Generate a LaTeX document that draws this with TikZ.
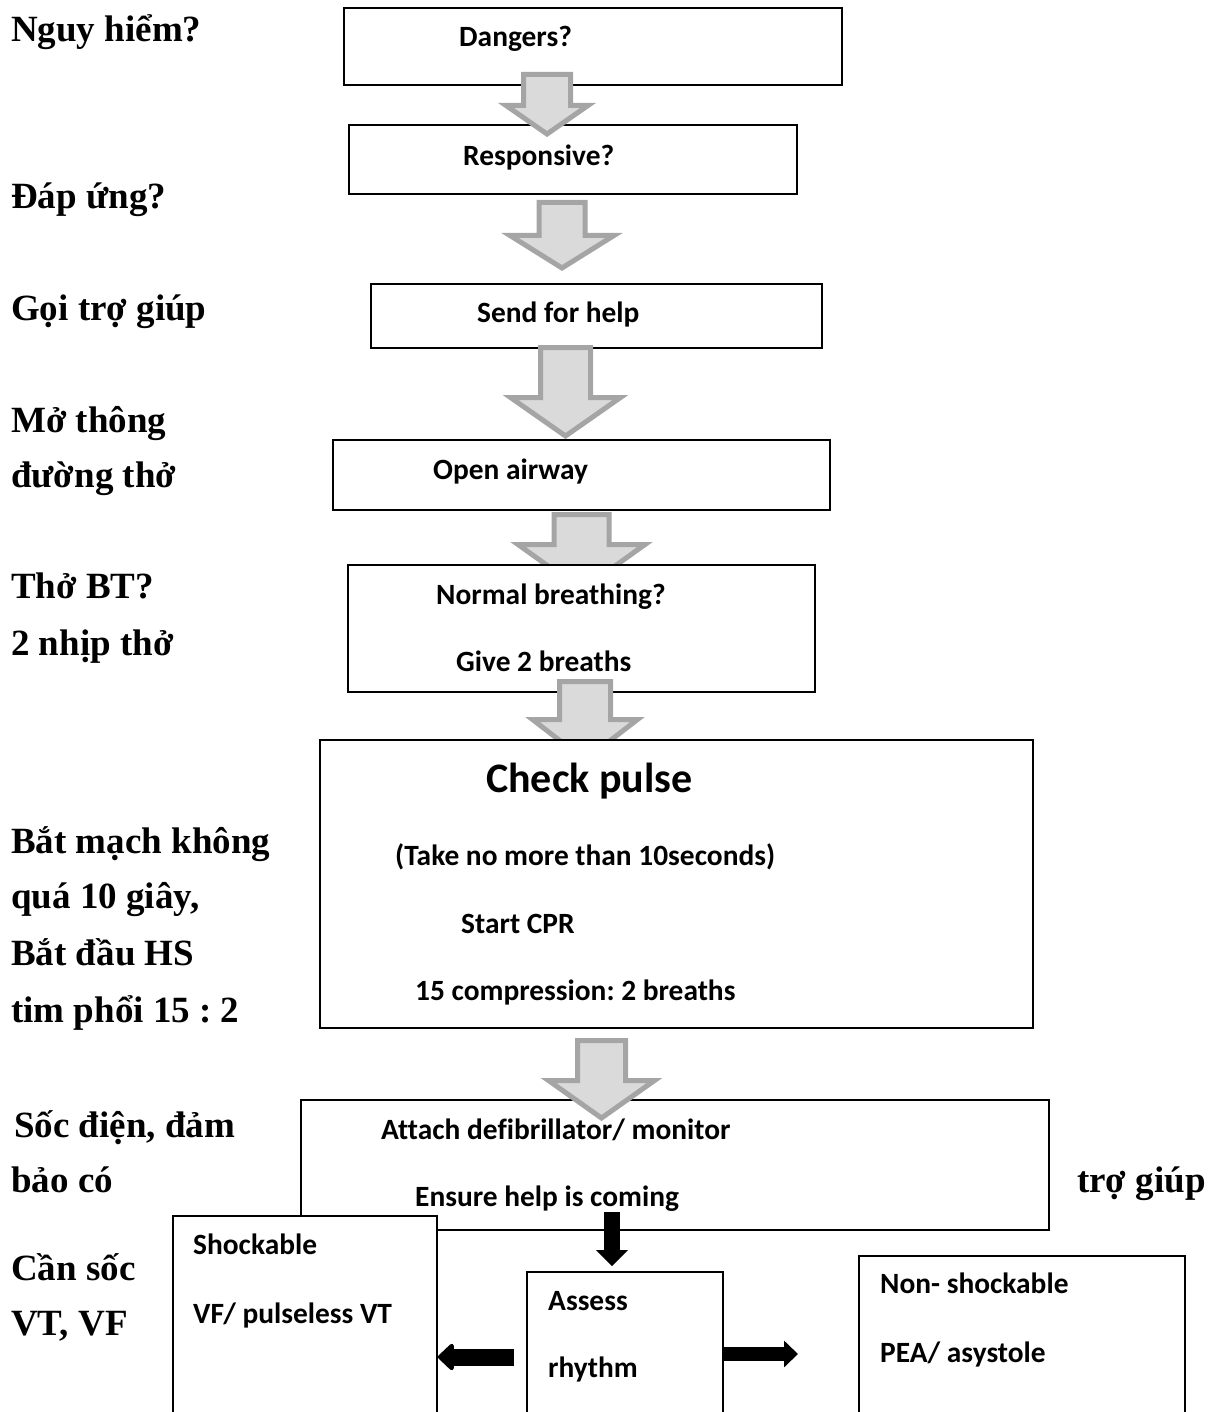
\documentclass[tikz,border=0pt]{standalone}
\usepackage{fontspec}
\setmainfont{Liberation Serif}
\newfontfamily\calib[Ligatures={NoCommon}]{Carlito}
\usetikzlibrary{arrows.meta,calc}
\definecolor{arrfill}{RGB}{218,218,218}
\definecolor{arrline}{RGB}{165,165,165}
\frenchspacing

% gray block arrow: centre x, shaft half width, top, head half width, head top, tip
\newcommand{\grayarrow}[6]{%
  \draw[grayarr] (#1-#2,#3) -- (#1+#2,#3) -- (#1+#2,#5) -- (#1+#4,#5)
    -- (#1,#6) -- (#1-#4,#5) -- (#1-#2,#5) -- cycle;}

\begin{document}
\begin{tikzpicture}[
    x=1pt, y=-1pt,
    flowbox/.style={draw, line width=1.8pt, fill=white, inner sep=0pt},
    boxtxt/.style={font=\calib\bfseries\fontsize{29.4}{35}\selectfont,
       anchor=base west, inner sep=0pt},
    bigtxt/.style={boxtxt, font=\calib\bfseries\fontsize{42}{50}\selectfont},
    lbl/.style={font=\bfseries\fontsize{37}{55.5}\selectfont,
       anchor=base west, inner sep=0pt},
    grayarr/.style={draw=arrline, fill=arrfill, line width=5pt, line join=miter},
    blkarr/.style={draw=black, line width=#1}
  ]
    \useasboundingbox (0,0) rectangle (1219,1412);
    \clip (0,0) rectangle (1219,1412);

    % Vietnamese labels on the left
    \node[lbl] (l1)  at (11,42)    {Nguy hiểm?};
    \node[lbl] (l2)  at (11,209)   {Đáp ứng?};
    \node[lbl] (l3)  at (11,320)   {Gọi trợ giúp};
    \node[lbl] (l4a) at (11,432)   {Mở thông};
    \node[lbl] (l4b) at (11,487)   {đường thở};
    \node[lbl] (l5a) at (11,598)   {Thở BT?};
    \node[lbl] (l5b) at (11,655)   {2 nhịp thở};
    \node[lbl] (l6a) at (11,853)   {Bắt mạch không};
    \node[lbl] (l6b) at (11,908)   {quá 10 giây,};
    \node[lbl] (l6c) at (11,965)   {Bắt đầu HS};
    \node[lbl] (l6d) at (11,1022)  {tim phổi 15 : 2};
    \node[lbl] (l7a) at (14,1137)  {Sốc điện, đảm};
    \node[lbl] (l7b) at (11,1192)  {bảo có};
    \node[lbl] (l7c) at (1077,1192) {trợ giúp};
    \node[lbl] (l8a) at (11,1280)  {Cần sốc};
    \node[lbl] (l8b) at (11,1335)  {VT, VF};

    % Upper boxes
    \node[flowbox, minimum width=498, minimum height=77] (dangers) at (593,46.5) {};
    \node[boxtxt] (tdang) at (459,47) {Dangers?};
    \node[flowbox, minimum width=448, minimum height=69] (resp) at (573,159.5) {};
    \node[boxtxt] (tresp) at (463,166) {Responsive?};
    \node[flowbox, minimum width=451, minimum height=64] (help) at (596.5,316) {};
    \node[boxtxt] (thelp) at (477,323) {Send for help};
    \node[flowbox, minimum width=497, minimum height=70] (airway) at (581.5,475) {};
    \node[boxtxt] (tair) at (433,479) {Open airway};

    % Gray block arrows
    \grayarrow{547}{23.5}{74.5}{41}{105.5}{134}
    \grayarrow{562}{23}{202.5}{52}{235.5}{268}
    \grayarrow{565.5}{25}{347.5}{55}{397.5}{436}
    \grayarrow{581.5}{27.5}{514.5}{63.5}{544.5}{590}

    \node[flowbox, minimum width=467, minimum height=127] (breath) at (581.5,628.5) {};
    \node[boxtxt] (tbr1) at (436,604) {Normal breathing?};
    \node[boxtxt] (tbr2) at (456,671) {Give 2 breaths};
    \grayarrow{585}{25.5}{681.5}{52.5}{719.5}{760}

    \node[flowbox, minimum width=713, minimum height=288] (pulse) at (676.5,884) {};
    \node[bigtxt] (tpul1) at (486,792) {Check pulse};
    \node[boxtxt] (tpul2) at (395,865) {(Take no more than 10seconds)};
    \node[boxtxt] (tpul3) at (461,933) {Start CPR};
    \node[boxtxt] (tpul4) at (415,1000) {15 compression: 2 breaths};

    \node[flowbox, minimum width=748, minimum height=130] (defib) at (675,1165) {};
    \node[boxtxt] (tdef1) at (381,1139) {Attach defibrillator/ monitor};
    \node[boxtxt] (tdef2) at (415,1206) {Ensure help is coming};
    \grayarrow{601.5}{24}{1040.5}{53}{1080.5}{1118}

    % Lower boxes (cut off by the page edge)
    \node[flowbox, minimum width=264, minimum height=240] (shock) at (305,1336) {};
    \node[boxtxt] (tsh1) at (193,1254) {Shockable};
    \node[boxtxt] (tsh2) at (193,1323) {VF/ pulseless VT};
    \node[flowbox, minimum width=196, minimum height=184] (assess) at (625,1364) {};
    \node[boxtxt] (tas1) at (548,1310) {Assess};
    \node[boxtxt] (tas2) at (548,1377) {rhythm};
    \node[flowbox, minimum width=326, minimum height=200] (nonshock) at (1022,1356) {};
    \node[boxtxt] (tns1) at (880,1293) {Non- shockable};
    \node[boxtxt] (tns2) at (880,1362) {PEA/ asystole};

    % Black arrows
    \coordinate (dstart) at (612,1212);
    \coordinate (lstart) at (514,1357);
    \coordinate (rend)   at (798,1354);
    \draw[blkarr=16pt, -{Triangle[length=16pt,width=31pt]}, shorten >=5pt]
      (dstart) -- (dstart |- assess.north);
    \draw[blkarr=17pt, -{Triangle[length=17pt,width=31pt,round]}]
      (lstart) -- (lstart -| shock.east);
    \draw[blkarr=14pt, -{Triangle[length=14pt,width=26pt]}]
      (assess.east |- rend) -- (rend);
\end{tikzpicture}
\end{document}
